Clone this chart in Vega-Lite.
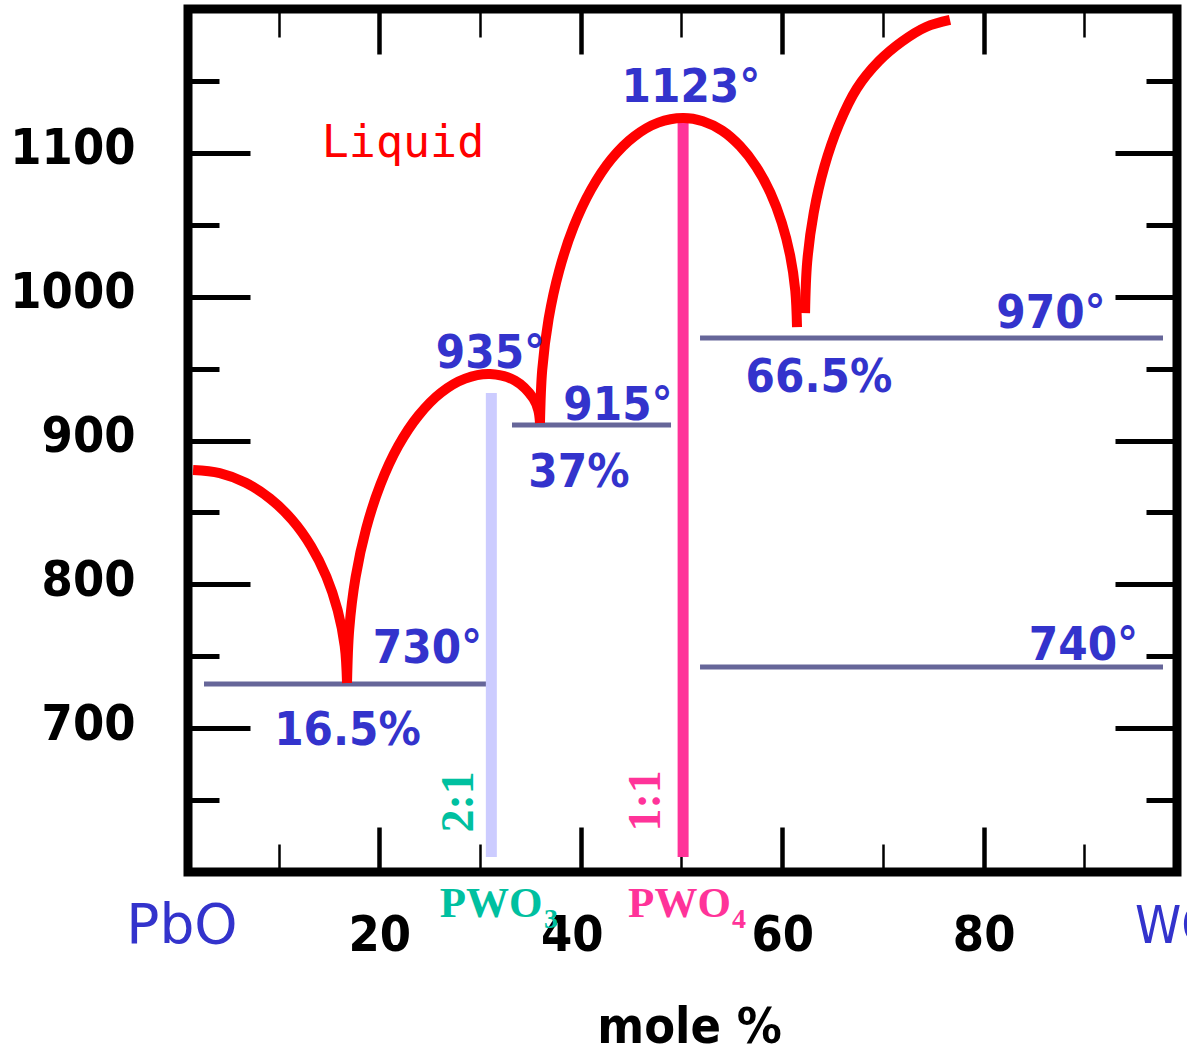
{
  "$schema": "https://vega.github.io/schema/vega-lite/v6.json",
  "width": 989,
  "height": 863,
  "autosize": {"type": "none"},
  "padding": {"left": 188, "top": 9, "right": 10, "bottom": 181},
  "background": "white",
  "config": {
    "view": {"stroke": "black", "strokeWidth": 9},
    "axis": {"domain": false, "grid": false, "tickColor": "black", "labelOverlap": false, "labelFlush": false, "labelBound": false}
  },
  "datasets": {
    "curves": [
      {"c": "A", "i": 1, "x": 1.50, "y": 879.5},
      {"c": "A", "i": 2, "x": 4.15, "y": 877.3},
      {"c": "A", "i": 3, "x": 6.73, "y": 870.6},
      {"c": "A", "i": 4, "x": 9.14, "y": 859.7},
      {"c": "A", "i": 5, "x": 11.33, "y": 844.9},
      {"c": "A", "i": 6, "x": 13.21, "y": 826.6},
      {"c": "A", "i": 7, "x": 14.74, "y": 805.4},
      {"c": "A", "i": 8, "x": 15.86, "y": 782.0},
      {"c": "A", "i": 9, "x": 16.56, "y": 757.1},
      {"c": "A", "i": 10, "x": 16.79, "y": 731.4},
      {"c": "B", "i": 1, "x": 16.79, "y": 731.4},
      {"c": "B", "i": 2, "x": 17.01, "y": 768.7},
      {"c": "B", "i": 3, "x": 17.64, "y": 804.9},
      {"c": "B", "i": 4, "x": 18.69, "y": 838.8},
      {"c": "B", "i": 5, "x": 20.11, "y": 869.5},
      {"c": "B", "i": 6, "x": 21.86, "y": 896.0},
      {"c": "B", "i": 7, "x": 23.89, "y": 917.4},
      {"c": "B", "i": 8, "x": 26.13, "y": 933.3},
      {"c": "B", "i": 9, "x": 28.52, "y": 943.0},
      {"c": "B", "i": 10, "x": 30.99, "y": 946.2},
      {"c": "B", "i": 11, "x": 33.47, "y": 941.6},
      {"c": "B", "i": 12, "x": 35.29, "y": 929.2},
      {"c": "B", "i": 13, "x": 35.78, "y": 921.0},
      {"c": "B", "i": 14, "x": 35.95, "y": 912.2},
      {"c": "C", "i": 1, "x": 35.95, "y": 912.2},
      {"c": "C", "i": 2, "x": 36.17, "y": 949.0},
      {"c": "C", "i": 3, "x": 36.81, "y": 984.7},
      {"c": "C", "i": 4, "x": 37.86, "y": 1018.2},
      {"c": "C", "i": 5, "x": 39.28, "y": 1048.5},
      {"c": "C", "i": 6, "x": 41.03, "y": 1074.6},
      {"c": "C", "i": 7, "x": 43.05, "y": 1095.8},
      {"c": "C", "i": 8, "x": 45.30, "y": 1111.4},
      {"c": "C", "i": 9, "x": 47.69, "y": 1121.0},
      {"c": "C", "i": 10, "x": 50.15, "y": 1124.2},
      {"c": "C", "i": 11, "x": 52.12, "y": 1122.0},
      {"c": "C", "i": 12, "x": 54.02, "y": 1115.5},
      {"c": "C", "i": 13, "x": 55.81, "y": 1104.7},
      {"c": "C", "i": 14, "x": 57.43, "y": 1090.2},
      {"c": "C", "i": 15, "x": 58.82, "y": 1072.3},
      {"c": "C", "i": 16, "x": 59.95, "y": 1051.6},
      {"c": "C", "i": 17, "x": 60.79, "y": 1028.6},
      {"c": "C", "i": 18, "x": 61.30, "y": 1004.1},
      {"c": "C", "i": 19, "x": 61.47, "y": 978.9},
      {"c": "D", "i": 1, "x": 62.27, "y": 988.6},
      {"c": "D", "i": 2, "x": 62.48, "y": 1024.0},
      {"c": "D", "i": 3, "x": 63.13, "y": 1058.3},
      {"c": "D", "i": 4, "x": 64.19, "y": 1090.5},
      {"c": "D", "i": 5, "x": 65.63, "y": 1119.6},
      {"c": "D", "i": 6, "x": 67.41, "y": 1144.7},
      {"c": "D", "i": 7, "x": 69.61, "y": 1163.8},
      {"c": "D", "i": 8, "x": 71.90, "y": 1177.4},
      {"c": "D", "i": 9, "x": 74.28, "y": 1187.5},
      {"c": "D", "i": 10, "x": 76.66, "y": 1192.4}
    ],
    "hlines": [
      {"x": 2.59, "x2": 30.59, "y": 730.7},
      {"x": 33.17, "x2": 48.96, "y": 910.8},
      {"x": 51.84, "x2": 97.81, "y": 971.3},
      {"x": 51.84, "x2": 97.81, "y": 742.5}
    ],
    "labels": [
      {"text": "1123°", "x": 50.94, "y": 1135.3},
      {"text": "935°", "x": 31.04, "y": 950.4},
      {"text": "915°", "x": 43.7, "y": 914.2},
      {"text": "37%", "x": 39.82, "y": 867.7},
      {"text": "970°", "x": 86.69, "y": 978.2},
      {"text": "66.5%", "x": 63.65, "y": 933.7},
      {"text": "730°", "x": 24.78, "y": 745.3},
      {"text": "16.5%", "x": 16.84, "y": 688.3},
      {"text": "740°", "x": 89.92, "y": 747.4}
    ]
  },
  "layer": [
    {
      "data": {"name": "hlines"},
      "mark": {"type": "rule", "color": "#666699", "strokeWidth": 5, "strokeCap": "butt"},
      "encoding": {
        "x": {"field": "x", "type": "quantitative", "scale": {"domain": [1, 99.2], "nice": false, "zero": false},
          "axis": {"orient": "bottom", "values": [10, 20, 30, 40, 50, 60, 70, 80, 90],
            "tickSize": {"condition": {"test": "datum.value % 20 === 0", "value": -45}, "value": -28},
            "tickWidth": {"condition": {"test": "datum.value % 20 === 0", "value": 4.5}, "value": 2.5},
            "labelExpr": "datum.value % 20 === 0 ? '' + datum.value : ''",
            "labelOffset": {"condition": {"test": "datum.value === 40", "value": -9}, "value": 0},
            "labelFont": "DejaVu Sans Condensed, DejaVu Sans", "labelFontSize": 50, "labelFontWeight": "bold", "labelColor": "black",
            "labelBaseline": "alphabetic", "labelPadding": 123,
            "title": "mole %", "titleFont": "DejaVu Sans Condensed, DejaVu Sans", "titleFontSize": 50, "titleFontWeight": "bold", "titleColor": "black",
            "titleBaseline": "alphabetic", "titleY": 170, "titleX": 501}},
        "x2": {"field": "x2"},
        "y": {"field": "y", "type": "quantitative", "scale": {"domain": [600, 1200], "nice": false, "zero": false},
          "axis": {"orient": "left", "values": [650, 700, 750, 800, 850, 900, 950, 1000, 1050, 1100, 1150],
            "tickSize": {"condition": {"test": "datum.value % 100 === 0", "value": -62}, "value": -31},
            "tickWidth": 5,
            "labelExpr": "datum.value % 100 === 0 ? '' + datum.value : ''",
            "labelFont": "DejaVu Sans Condensed, DejaVu Sans", "labelFontSize": 50, "labelFontWeight": "bold", "labelColor": "black",
            "labelPadding": 115, "labelOffset": -4,
            "title": null}}
      }
    },
    {
      "data": {"values": [
        {"k": "2:1", "x": 31.12, "y": 933.0, "y2": 610.4}
      ]},
      "mark": {"type": "rule", "color": "#ccccff", "strokeWidth": 11, "strokeCap": "butt"},
      "encoding": {
        "x": {"field": "x", "type": "quantitative", "scale": {"domain": [1, 99.2], "nice": false, "zero": false},
          "axis": {"orient": "top", "values": [10, 20, 30, 40, 50, 60, 70, 80, 90],
            "tickSize": {"condition": {"test": "datum.value % 20 === 0", "value": -45}, "value": -28},
            "tickWidth": {"condition": {"test": "datum.value % 20 === 0", "value": 4.5}, "value": 2.5},
            "labels": false, "title": null}},
        "y": {"field": "y", "type": "quantitative", "scale": {"domain": [600, 1200], "nice": false, "zero": false},
          "axis": {"orient": "right", "values": [650, 700, 750, 800, 850, 900, 950, 1000, 1050, 1100, 1150],
            "tickSize": {"condition": {"test": "datum.value % 100 === 0", "value": -62}, "value": -31},
            "tickWidth": 5, "labels": false, "title": null}},
        "y2": {"field": "y2"}
      }
    },
    {
      "data": {"values": [
        {"k": "1:1", "x": 50.16, "y": 1124.2, "y2": 610.4}
      ]},
      "mark": {"type": "rule", "color": "#ff3399", "strokeWidth": 11, "strokeCap": "butt"},
      "encoding": {
        "x": {"field": "x", "type": "quantitative", "scale": {"domain": [1, 99.2], "nice": false, "zero": false}, "axis": null},
        "y": {"field": "y", "type": "quantitative", "scale": {"domain": [600, 1200], "nice": false, "zero": false}, "axis": null},
        "y2": {"field": "y2"}
      }
    },
    {
      "data": {"name": "curves"},
      "mark": {"type": "line", "color": "#ff0000", "strokeWidth": 10, "strokeCap": "butt", "interpolate": "catmull-rom"},
      "encoding": {
        "x": {"field": "x", "type": "quantitative", "scale": {"domain": [1, 99.2], "nice": false, "zero": false}, "axis": null},
        "y": {"field": "y", "type": "quantitative", "scale": {"domain": [600, 1200], "nice": false, "zero": false}, "axis": null},
        "detail": {"field": "c"},
        "order": {"field": "i", "type": "quantitative"}
      }
    },
    {
      "data": {"name": "labels"},
      "mark": {"type": "text", "align": "center", "baseline": "alphabetic", "font": "DejaVu Sans Condensed, DejaVu Sans", "fontSize": 47, "fontWeight": "bold", "color": "#3333cc"},
      "encoding": {
        "x": {"field": "x", "type": "quantitative", "scale": {"domain": [1, 99.2], "nice": false, "zero": false}, "axis": null},
        "y": {"field": "y", "type": "quantitative", "scale": {"domain": [600, 1200], "nice": false, "zero": false}, "axis": null},
        "text": {"field": "text"}
      }
    },
    {
      "data": {"values": [{"text": "Liquid", "x": 22.35, "y": 1097.1}]},
      "mark": {"type": "text", "align": "center", "baseline": "alphabetic", "font": "DejaVu Sans Mono", "fontSize": 45, "color": "#ff0000"},
      "encoding": {
        "x": {"field": "x", "type": "quantitative", "axis": null},
        "y": {"field": "y", "type": "quantitative", "axis": null},
        "text": {"field": "text"}
      }
    },
    {
      "data": {"values": [{"text": "PbO", "x": 0.4, "y": 550.6}]},
      "mark": {"type": "text", "align": "center", "baseline": "alphabetic", "font": "DejaVu Sans", "fontSize": 55, "color": "#3333cc"},
      "encoding": {
        "x": {"field": "x", "type": "quantitative", "axis": null},
        "y": {"field": "y", "type": "quantitative", "axis": null},
        "text": {"field": "text"}
      }
    },
    {
      "data": {"values": [{"text": "WO₃", "x": 95.03, "y": 550.6}]},
      "mark": {"type": "text", "align": "left", "baseline": "alphabetic", "font": "DejaVu Sans Condensed, DejaVu Sans", "fontSize": 52, "color": "#3333cc"},
      "encoding": {
        "x": {"field": "x", "type": "quantitative", "axis": null},
        "y": {"field": "y", "type": "quantitative", "axis": null},
        "text": {"field": "text"}
      }
    },
    {
      "data": {"values": [{"text": "PWO", "x": 31.09, "y": 568.7}]},
      "mark": {"type": "text", "align": "center", "baseline": "alphabetic", "font": "Liberation Serif", "fontSize": 43, "fontWeight": "bold", "color": "#00c0a0"},
      "encoding": {
        "x": {"field": "x", "type": "quantitative", "axis": null},
        "y": {"field": "y", "type": "quantitative", "axis": null},
        "text": {"field": "text"}
      }
    },
    {
      "data": {"values": [{"text": "3", "x": 37.04, "y": 561.0}]},
      "mark": {"type": "text", "align": "center", "baseline": "alphabetic", "font": "Liberation Serif", "fontSize": 28, "fontWeight": "bold", "color": "#00c0a0"},
      "encoding": {
        "x": {"field": "x", "type": "quantitative", "axis": null},
        "y": {"field": "y", "type": "quantitative", "axis": null},
        "text": {"field": "text"}
      }
    },
    {
      "data": {"values": [{"text": "PWO", "x": 49.8, "y": 568.7}]},
      "mark": {"type": "text", "align": "center", "baseline": "alphabetic", "font": "Liberation Serif", "fontSize": 43, "fontWeight": "bold", "color": "#ff3399"},
      "encoding": {
        "x": {"field": "x", "type": "quantitative", "axis": null},
        "y": {"field": "y", "type": "quantitative", "axis": null},
        "text": {"field": "text"}
      }
    },
    {
      "data": {"values": [{"text": "4", "x": 55.71, "y": 561.0}]},
      "mark": {"type": "text", "align": "center", "baseline": "alphabetic", "font": "Liberation Serif", "fontSize": 28, "fontWeight": "bold", "color": "#ff3399"},
      "encoding": {
        "x": {"field": "x", "type": "quantitative", "axis": null},
        "y": {"field": "y", "type": "quantitative", "axis": null},
        "text": {"field": "text"}
      }
    },
    {
      "data": {"values": [{"text": "2:1", "x": 29.3, "y": 648.7}]},
      "mark": {"type": "text", "align": "center", "baseline": "alphabetic", "angle": 270, "font": "Liberation Serif", "fontSize": 46, "fontWeight": "bold", "color": "#00c0a0"},
      "encoding": {
        "x": {"field": "x", "type": "quantitative", "axis": null},
        "y": {"field": "y", "type": "quantitative", "axis": null},
        "text": {"field": "text"}
      }
    },
    {
      "data": {"values": [{"text": "1:1", "x": 47.87, "y": 649.4}]},
      "mark": {"type": "text", "align": "center", "baseline": "alphabetic", "angle": 270, "font": "Liberation Serif", "fontSize": 46, "fontWeight": "bold", "color": "#ff3399"},
      "encoding": {
        "x": {"field": "x", "type": "quantitative", "axis": null},
        "y": {"field": "y", "type": "quantitative", "axis": null},
        "text": {"field": "text"}
      }
    }
  ],
  "resolve": {"axis": {"x": "independent", "y": "independent"}}
}
